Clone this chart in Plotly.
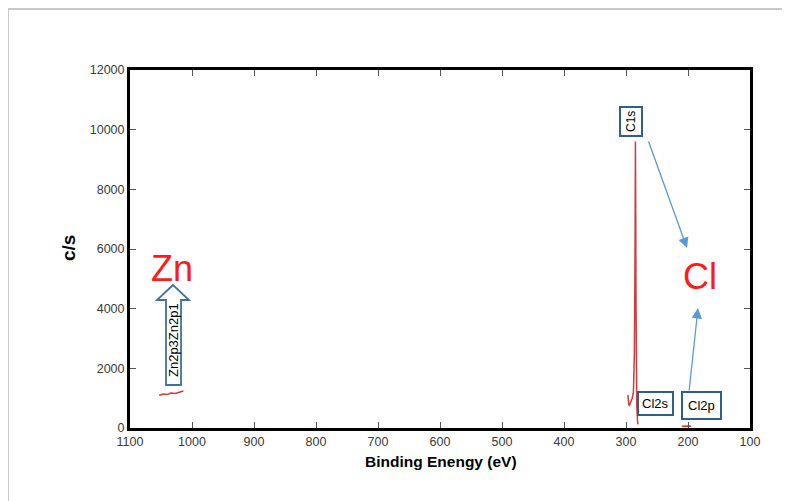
import plotly.graph_objects as go

# ---- data ----
zn_be = [1053, 1046, 1040, 1034, 1027, 1020, 1014]
zn_cps = [1100, 1140, 1120, 1170, 1160, 1210, 1240]

c1s_be = [297, 296.3, 295.5, 294.5, 293, 291.5, 290, 288, 286.5, 285.5, 284.8, 284.3, 283.8, 283.2, 282.5, 281.5, 280.6]
c1s_cps = [1100, 900, 780, 760, 850, 980, 1000, 1200, 2500, 5500, 9600, 7200, 4000, 1800, 700, 250, 120]

cl2p_be = [210, 205, 200, 195]
cl2p_cps = [60, 70, 65, 60]

x_ticks = [1100, 1000, 900, 800, 700, 600, 500, 400, 300, 200, 100]
x_tick_text = [str(v) for v in x_ticks]
y_ticks = [0, 2000, 4000, 6000, 8000, 10000, 12000]
y_tick_text = [str(v) for v in y_ticks]

FONT = "Arial, Liberation Sans, sans-serif"
LINE = "#d23a3c"
BOX = "#2f5f8f"
ARROW = "#5b9bd5"

fig = go.Figure()
for xs, ys in [(zn_be, zn_cps), (c1s_be, c1s_cps), (cl2p_be, cl2p_cps)]:
    fig.add_trace(go.Scatter(x=xs, y=ys, mode="lines",
                             line=dict(color=LINE, width=1.5),
                             showlegend=False, hoverinfo="skip"))

axis_common = dict(showline=True, linecolor="black", linewidth=3, mirror="ticks",
                   ticks="inside", ticklen=6, tickwidth=1, tickcolor="#555",
                   showgrid=False, zeroline=False,
                   tickfont=dict(family=FONT, size=12.5, color="#3a3a3a"))

# page body adds an 8px margin; size the div so the plot area lands at
# page x 130..750, y 70..428
fig.update_layout(
    width=782, height=493,
    margin=dict(l=122, r=40, t=62, b=73),
    paper_bgcolor="white", plot_bgcolor="white",
    xaxis=dict(range=[1100, 100], tickvals=x_ticks, ticktext=x_tick_text, **axis_common),
    yaxis=dict(range=[0, 12000], tickvals=y_ticks, ticktext=y_tick_text, **axis_common),
)

# outer grey frame (top and left edges)
fig.add_shape(type="line", xref="paper", yref="paper", x0=-0.1968, x1=1.07, y0=1.1704, y1=1.1704,
              line=dict(color="#c8c8c8", width=2))
fig.add_shape(type="line", xref="paper", yref="paper", x0=-0.1968, x1=-0.1968, y0=1.1704, y1=-0.21,
              line=dict(color="#c8c8c8", width=2))

# hollow block arrow for Zn
path = ("M 1030.6 4793 L 1056.5 4291 L 1041.9 4291 L 1041.9 1441 "
        "L 1017.7 1441 L 1017.7 4291 L 1004.8 4291 Z")
fig.add_shape(type="path", path=path, xref="x", yref="y",
              line=dict(color="#41719c", width=1.8), fillcolor="white")

anns = []
# axis titles
anns.append(dict(text="<b>c/s</b>", xref="paper", yref="paper",
                 x=(68 - 130) / 620, y=(428 - 248) / 358, showarrow=False, textangle=-90,
                 xanchor="center", yanchor="middle",
                 font=dict(family=FONT, size=19, color="black")))
anns.append(dict(text="<b>Binding Enengy (eV)</b>", xref="paper", yref="paper",
                 x=(441 - 130) / 620, y=(428 - 461) / 358, showarrow=False,
                 xanchor="center", yanchor="middle",
                 font=dict(family=FONT, size=15.5, color="black")))
# element labels
anns.append(dict(text="Zn", x=1032, y=5363, showarrow=False,
                 font=dict(family=FONT, size=36, color="#ff1a1a")))
anns.append(dict(text="Cl", x=180.6, y=5062, showarrow=False,
                 font=dict(family=FONT, size=36, color="#ff1a1a")))
anns.append(dict(text="Zn2p3Zn2p1", x=1029, y=2950, showarrow=False, textangle=-90,
                 font=dict(family=FONT, size=13, color="black")))
# boxed peak labels
anns.append(dict(text="C1s", x=291.9, y=10257, showarrow=False, textangle=-90,
                 font=dict(family=FONT, size=12, color="black"),
                 bordercolor=BOX, borderwidth=2, borderpad=3, bgcolor="white"))
anns.append(dict(text="Cl2s", x=253, y=838, showarrow=False,
                 font=dict(family=FONT, size=13, color="black"),
                 bordercolor=BOX, borderwidth=2, borderpad=3, bgcolor="white"))
anns.append(dict(text="Cl2p", x=179, y=771, showarrow=False,
                 font=dict(family=FONT, size=13, color="black"),
                 bordercolor=BOX, borderwidth=2, borderpad=5, bgcolor="white"))
# pointer arrows
anns.append(dict(text="", x=201.6, y=6034, ax=264.5, ay=9654, axref="x", ayref="y",
                 showarrow=True, arrowhead=2, arrowsize=1.6, arrowwidth=1.3, arrowcolor=ARROW))
anns.append(dict(text="", x=183.9, y=4022, ax=198.4, ay=1207, axref="x", ayref="y",
                 showarrow=True, arrowhead=2, arrowsize=1.6, arrowwidth=1.3, arrowcolor=ARROW))
fig.update_layout(annotations=anns)

fig.write_html("out.html")
